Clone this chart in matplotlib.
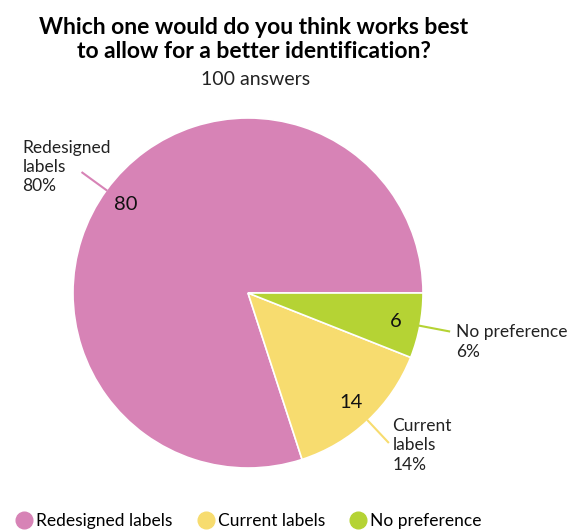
import numpy as np
import matplotlib
matplotlib.use("Agg")
import matplotlib.pyplot as plt
from matplotlib.lines import Line2D

plt.rcParams["font.family"] = ["Lato", "DejaVu Sans"]

categories = ["Redesigned labels", "Current labels", "No preference"]
wrapped = ["Redesigned\nlabels", "Current\nlabels", "No preference"]
counts = [80, 14, 6]
colors = ["#D783B6", "#F7DC6F", "#B5D334"]

# where the outside labels sit (data coords of the pie, radius 1)
label_pos = [(-1.29, 0.72), (0.825, -0.87), (1.19, -0.28)]

fig = plt.figure(figsize=(5.76, 5.31), dpi=100)
ax = fig.add_axes([73 / 576, 63 / 531, 350 / 576, 350 / 531])

wedges, _ = ax.pie(counts, colors=colors, startangle=0, counterclock=True,
                   radius=1, wedgeprops=dict(edgecolor="white", linewidth=1.2))
ax.set_xlim(-1, 1)
ax.set_ylim(-1, 1)

total = sum(counts)
for w, n, lab, c, (tx, ty) in zip(wedges, counts, wrapped, colors, label_pos):
    mid = np.deg2rad((w.theta1 + w.theta2) / 2)
    cx, cy = np.cos(mid), np.sin(mid)
    ax.text(0.86 * cx, 0.86 * cy, str(n), ha="center", va="center",
            fontsize=14.5, color="#111111")
    ax.plot([1.0 * cx, 1.17 * cx], [1.0 * cy, 1.17 * cy], color=c, lw=1.5,
            clip_on=False)
    ax.text(tx, ty, f"{lab}\n{n / total * 100:.0f}%", ha="left", va="center",
            fontsize=12.5, color="#222222", linespacing=1.25)

fig.text(0.44, 0.926, "Which one would do you think works best\nto allow for a better identification?",
         ha="center", va="center", fontsize=16.5, fontweight="bold",
         linespacing=1.2)
fig.text(0.443, 0.85, "100 answers", ha="center", va="center", fontsize=14,
         color="#222222")

handles = [Line2D([], [], marker="o", ls="", markersize=12,
                  markerfacecolor=c, markeredgecolor=c) for c in colors]
fig.legend(handles, categories, loc="lower left", bbox_to_anchor=(0.0, -0.025),
           ncol=3, frameon=False, fontsize=12.5, handletextpad=0.2,
           columnspacing=1.4, handlelength=1.0)

fig.savefig("out.png", dpi=100)
